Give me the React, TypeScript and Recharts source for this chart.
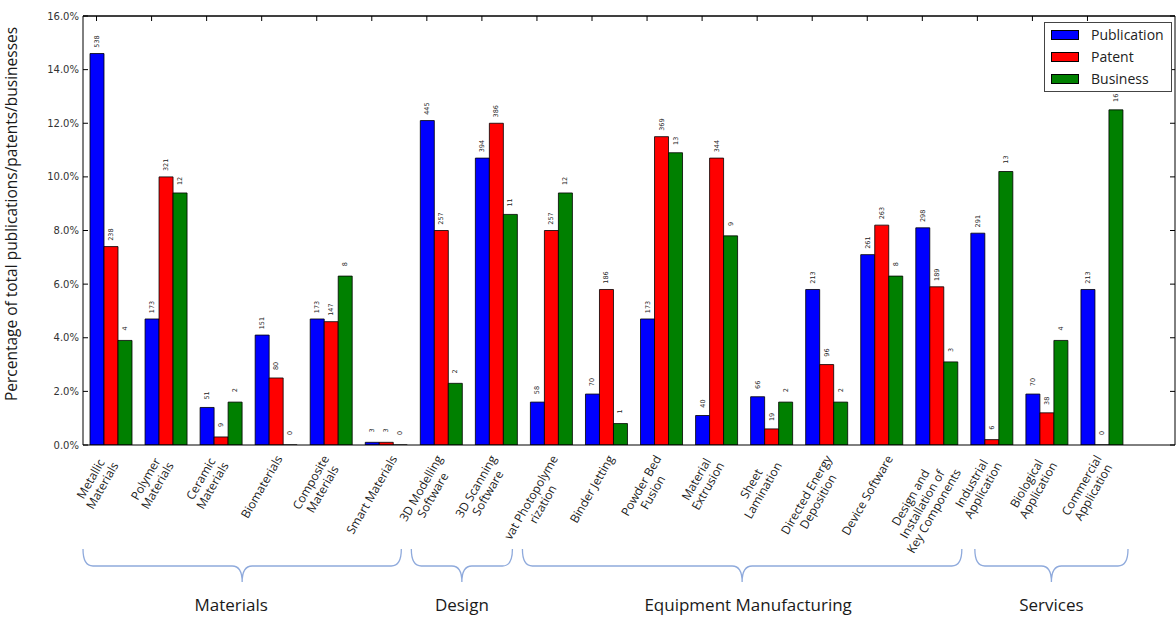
import React from 'react';
import { BarChart, Bar, XAxis, YAxis, Legend, LabelList, CartesianGrid, ReferenceLine } from 'recharts';

// ---------- data ----------
const CATEGORIES = [
  'Metallic\nMaterials',
  'Polymer\nMaterials',
  'Ceramic\nMaterials',
  'Biomaterials',
  'Composite\nMaterials',
  'Smart Materials',
  '3D Modelling\nSoftware',
  '3D Scanning\nSoftware',
  'vat Photopolyme\nrization',
  'Binder Jetting',
  'Powder Bed\nFusion',
  'Material\nExtrusion',
  'Sheet\nLamination',
  'Directed Energy\nDeposition',
  'Device Software',
  'Design and\nInstallation of\nKey Components',
  'Industrial\nApplication',
  'Biological\nApplication',
  'Commercial\nApplication',
];

// percentage of total
const PUBLICATION = [14.6, 4.7, 1.4, 4.1, 4.7, 0.1, 12.1, 10.7, 1.6, 1.9, 4.7, 1.1, 1.8, 5.8, 7.1, 8.1, 7.9, 1.9, 5.8];
const PATENT = [7.4, 10.0, 0.3, 2.5, 4.6, 0.1, 8.0, 12.0, 8.0, 5.8, 11.5, 10.7, 0.6, 3.0, 8.2, 5.9, 0.2, 1.2, 0];
const BUSINESS = [3.9, 9.4, 1.6, 0, 6.3, 0, 2.3, 8.6, 9.4, 0.8, 10.9, 7.8, 1.6, 1.6, 6.3, 3.1, 10.2, 3.9, 12.5];

// absolute counts (bar labels)
const PUBLICATION_N = [538, 173, 51, 151, 173, 3, 445, 394, 58, 70, 173, 40, 66, 213, 261, 298, 291, 70, 213];
const PATENT_N = [238, 321, 9, 80, 147, 3, 257, 386, 257, 186, 369, 344, 19, 96, 263, 189, 6, 38, 0];
const BUSINESS_N = [4, 12, 2, 0, 8, 0, 2, 11, 12, 1, 13, 9, 2, 2, 8, 3, 13, 4, 16];

const SERIES_NAMES = ['Publication', 'Patent', 'Business'];
const Y_TICKS = [0, 2, 4, 6, 8, 10, 12, 14, 16];
const Y_TITLE = 'Percentage of total publications/patents/businesses';

const GROUP_NAMES = ['Materials', 'Design', 'Equipment Manufacturing', 'Services'];
const GROUP_FIRST = [0, 6, 8, 16];
const GROUP_LAST = [5, 7, 15, 18];

// ---------- layout ----------
const W = 1176;
const H = 617;
const PLOT_LEFT = 83;
const PLOT_TOP = 16;
const PLOT_RIGHT = 1175;
const AXIS_Y = 445;
const X_PAD_RIGHT = 46;
const BAR = 14;
const BAND = (PLOT_RIGHT - X_PAD_RIGHT - PLOT_LEFT) / CATEGORIES.length;
const LABEL_TOP = 453;
const LABEL_FONT = 12;
const LABEL_LINE = 13.5;
const SANS = "'Open Sans', 'Noto Sans', sans-serif";
const MPL = "'DejaVu Sans', sans-serif";
const BRACE_INSET = [[0, 12], [-2, 11], [-1, 2], [11, 1]];
const GROUP_TEXT_DX = [-11, 0, 6, 0];

const data = CATEGORIES.map((name, i) => ({
  name,
  pub: PUBLICATION[i],
  pat: PATENT[i],
  bus: BUSINESS[i],
  pubN: PUBLICATION_N[i],
  patN: PATENT_N[i],
  busN: BUSINESS_N[i],
}));

let ctx: CanvasRenderingContext2D | null = null;
function textWidth(s: string, font: string): number {
  if (!ctx) ctx = document.createElement('canvas').getContext('2d');
  if (!ctx) return s.length * 6.5;
  ctx.font = font;
  return ctx.measureText(s).width;
}

const S60 = Math.sin(Math.PI / 3);
const C60 = Math.cos(Math.PI / 3);

function XTick(props: any) {
  const { x, payload } = props;
  const lines = String(payload.value).split('\n');
  const cx = x - BAR;
  const L = Math.max(...lines.map((l) => textWidth(l, `${LABEL_FONT}px ${SANS}`)));
  const thick = lines.length * LABEL_LINE;
  const ext = L * S60 + thick * C60;
  const cy = LABEL_TOP + ext / 2;
  return (
    <g>
      <line x1={cx} x2={cx} y1={PLOT_TOP} y2={PLOT_TOP + 5} stroke="#000" strokeWidth={1} />
      <g transform={`translate(${cx},${cy}) rotate(-60)`}>
        <text textAnchor="middle" fontFamily={SANS} fontSize={LABEL_FONT} fill="#1a1a1a">
          {lines.map((ln, i) => (
            <tspan key={i} x={0} y={(i - (lines.length - 1) / 2) * LABEL_LINE + LABEL_FONT * 0.35}>
              {ln}
            </tspan>
          ))}
        </text>
      </g>
    </g>
  );
}

function YTick(props: any) {
  const { y, payload } = props;
  return (
    <g>
      <text x={PLOT_LEFT - 4} y={y} dy={3.5} textAnchor="end" fontFamily={MPL} fontSize={10} fill="#333">
        {Number(payload.value).toFixed(1)}%
      </text>
      <line x1={PLOT_LEFT} x2={PLOT_LEFT + 5} y1={y} y2={y} stroke="#000" />
      <line x1={PLOT_RIGHT} x2={PLOT_RIGHT - 5} y1={y} y2={y} stroke="#000" />
    </g>
  );
}

function ValueLabel(props: any) {
  const { x, y, width, height, value } = props;
  if (value === undefined || value === null) return null;
  const cx = Number(x) + Number(width) / 2;
  const top = Math.min(Number(y), Number(y) + Number(height || 0));
  const cy = top - 12;
  return (
    <text
      transform={`translate(${cx},${cy}) rotate(-90)`}
      textAnchor="middle"
      dy={2}
      fontFamily={MPL}
      fontSize={6.5}
      fill="#222"
    >
      {value}
    </text>
  );
}

function LegendBox(props: any) {
  const payload = [...(props.payload || [])].sort(
    (a: any, b: any) => SERIES_NAMES.indexOf(a.value) - SERIES_NAMES.indexOf(b.value)
  );
  return (
    <div
      style={{
        border: '1px solid #444',
        background: '#fff',
        width: 128,
        height: 70,
        boxSizing: 'border-box',
        paddingTop: 1,
      }}
    >
      {payload.map((p: any) => (
        <div key={p.value} style={{ display: 'flex', alignItems: 'center', height: 22 }}>
          <div
            style={{
              width: 28,
              height: 10,
              marginLeft: 6,
              background: p.color,
              border: '1px solid #000',
              boxSizing: 'border-box',
            }}
          />
          <span style={{ marginLeft: 12, fontFamily: SANS, fontSize: 14, color: '#222', lineHeight: '22px' }}>
            {p.value}
          </span>
        </div>
      ))}
    </div>
  );
}

function bracePath(x0: number, x1: number): string {
  const y0 = 549;
  const y1 = 566;
  const y2 = 582;
  const r = 10;
  const xc = (x0 + x1) / 2;
  return [
    `M${x0},${y0}`,
    `Q${x0},${y1} ${x0 + r},${y1}`,
    `L${xc - r},${y1}`,
    `Q${xc},${y1} ${xc},${y2}`,
    `Q${xc},${y1} ${xc + r},${y1}`,
    `L${x1 - r},${y1}`,
    `Q${x1},${y1} ${x1},${y0}`,
  ].join(' ');
}

export default function App() {
  return (
    <div style={{ position: 'absolute', left: 0, top: 0, width: W, height: H, overflow: 'hidden', background: '#fff' }}>
      <BarChart
        width={W}
        height={H}
        data={data}
        margin={{ top: PLOT_TOP, right: W - PLOT_RIGHT, bottom: 12, left: 0 }}
        barGap={0}
      >
        <CartesianGrid horizontalPoints={[PLOT_TOP]} verticalPoints={[PLOT_RIGHT]} stroke="#000" strokeWidth={1} />
        <XAxis
          dataKey="name"
          interval={0}
          tick={<XTick />}
          tickLine={false}
          axisLine={{ stroke: '#000', strokeWidth: 1 }}
          height={H - 12 - AXIS_Y}
          padding={{ left: 0, right: X_PAD_RIGHT }}
        />
        <YAxis
          width={PLOT_LEFT}
          domain={[0, 16]}
          ticks={Y_TICKS}
          tick={<YTick />}
          tickLine={false}
          axisLine={{ stroke: '#000', strokeWidth: 1 }}
          allowDataOverflow
        />
        <ReferenceLine y={16} stroke="#000" strokeWidth={1} />
        <Legend
          layout="horizontal"
          verticalAlign="middle"
          align="center"
          content={<LegendBox />}
          wrapperStyle={{ position: 'absolute', left: 1044, top: 22, width: 128, height: 70 }}
        />
        <Bar dataKey="pub" name={SERIES_NAMES[0]} fill="#0000ff" stroke="#000" strokeWidth={0.8} barSize={BAR} minPointSize={0.01} isAnimationActive={false}>
          <LabelList dataKey="pubN" content={<ValueLabel />} />
        </Bar>
        <Bar dataKey="pat" name={SERIES_NAMES[1]} fill="#ff0000" stroke="#000" strokeWidth={0.8} barSize={BAR} minPointSize={0.01} isAnimationActive={false}>
          <LabelList dataKey="patN" content={<ValueLabel />} />
        </Bar>
        <Bar dataKey="bus" name={SERIES_NAMES[2]} fill="#008000" stroke="#000" strokeWidth={0.8} barSize={BAR} minPointSize={0.01} isAnimationActive={false}>
          <LabelList dataKey="busN" content={<ValueLabel />} />
        </Bar>
      </BarChart>
      <svg
        width={W}
        height={H}
        style={{ position: 'absolute', left: 0, top: 0, pointerEvents: 'none' }}
      >
        <text
          transform={`translate(17,214) rotate(-90)`}
          textAnchor="middle"
          fontFamily={SANS}
          fontSize={15.5}
          fill="#1a1a1a"
        >
          {Y_TITLE}
        </text>
        {GROUP_NAMES.map((g, i) => {
          const x0 = PLOT_LEFT + GROUP_FIRST[i] * BAND + BRACE_INSET[i][0];
          const x1 = PLOT_LEFT + (GROUP_LAST[i] + 1) * BAND - BRACE_INSET[i][1];
          const xc = (x0 + x1) / 2;
          return (
            <g key={g}>
              <path d={bracePath(x0, x1)} fill="none" stroke="#8faadc" strokeWidth={1.3} />
              <text
                x={xc + GROUP_TEXT_DX[i]}
                y={611}
                textAnchor="middle"
                fontFamily={SANS}
                fontSize={17}
                fill="#1a1a1a"
              >
                {g}
              </text>
            </g>
          );
        })}
      </svg>
    </div>
  );
}
